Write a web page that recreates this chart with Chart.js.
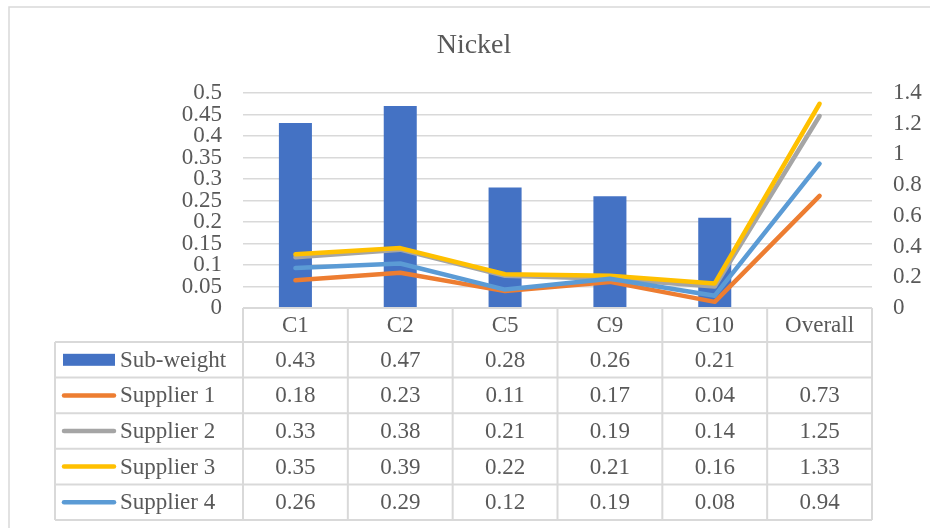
<!DOCTYPE html>
<html>
<head>
<meta charset="utf-8">
<title>Nickel</title>
<script src="https://cdn.jsdelivr.net/npm/chart.js@4.4.1/dist/chart.umd.min.js"></script>
<style>
  html, body { margin: 0; padding: 0; background: #ffffff; }
  #wrap { width: 930px; height: 528px; position: relative; }
</style>
</head>
<body>
<div id="wrap"><canvas id="chart" width="930" height="528"></canvas></div>
<script>
// Criteria, sub-weights and supplier scores for nickel
const categories = ['C1', 'C2', 'C5', 'C9', 'C10', 'Overall'];
const subWeight = [0.43, 0.47, 0.28, 0.26, 0.21, null];
const supplier1 = [0.18, 0.23, 0.11, 0.17, 0.04, 0.73];
const supplier2 = [0.33, 0.38, 0.21, 0.19, 0.14, 1.25];
const supplier3 = [0.35, 0.39, 0.22, 0.21, 0.16, 1.33];
const supplier4 = [0.26, 0.29, 0.12, 0.19, 0.08, 0.94];

const seriesNames = ['Sub-weight', 'Supplier 1', 'Supplier 2', 'Supplier 3', 'Supplier 4'];
const seriesColors = ['#4472C4', '#ED7D31', '#A5A5A5', '#FFC000', '#5B9BD5'];

// Axis tick labels
const leftTickLabels = ['0', '0.05', '0.1', '0.15', '0.2', '0.25', '0.3', '0.35', '0.4', '0.45', '0.5'];
const rightTickLabels = ['0', '0.2', '0.4', '0.6', '0.8', '1', '1.2', '1.4'];

const TEXT = '#595959';
const RULE = '#d9d9d9';
const FONT = '"Liberation Serif", "Times New Roman", serif';

// Frame, title and the data table underneath the plot
const tablePlugin = {
  id: 'dataTable',
  beforeDraw(chart) {
    const ctx = chart.ctx;
    ctx.save();
    ctx.fillStyle = '#ffffff';
    ctx.fillRect(0, 0, chart.width, chart.height);
    ctx.strokeStyle = RULE;
    ctx.lineWidth = 1.5;
    ctx.strokeRect(9, 7, chart.width + 20, chart.height + 20);
    ctx.fillStyle = TEXT;
    ctx.font = '28px ' + FONT;
    ctx.textAlign = 'center';
    ctx.textBaseline = 'alphabetic';
    ctx.fillText('Nickel', 474, 53);
    ctx.restore();
  },
  afterDraw(chart) {
    const ctx = chart.ctx;
    const area = chart.chartArea;
    const xs = chart.scales.x;
    const n = categories.length;
    const colW = (area.right - area.left) / n;
    const top = area.bottom;
    const headH = 34;
    const rowH = 35.6;
    const labelLeft = 55;
    const rows = [subWeight, supplier1, supplier2, supplier3, supplier4];
    const bottom = top + headH + rowH * rows.length;

    ctx.save();
    ctx.strokeStyle = RULE;
    ctx.lineWidth = 2;
    ctx.beginPath();
    // header row lines
    ctx.moveTo(area.left, top);
    ctx.lineTo(area.right, top);
    // row separators
    for (let r = 0; r <= rows.length; r++) {
      const y = top + headH + rowH * r;
      ctx.moveTo(labelLeft, y);
      ctx.lineTo(area.right, y);
    }
    // column separators
    for (let c = 0; c <= n; c++) {
      const x = area.left + colW * c;
      ctx.moveTo(x, top);
      ctx.lineTo(x, bottom);
    }
    ctx.moveTo(labelLeft, top + headH);
    ctx.lineTo(labelLeft, bottom);
    ctx.stroke();

    ctx.fillStyle = TEXT;
    ctx.font = '23px ' + FONT;
    ctx.textBaseline = 'middle';
    ctx.textAlign = 'center';
    categories.forEach((c, i) => {
      ctx.fillText(c, xs.getPixelForValue(i), top + headH / 2 + 1);
    });

    rows.forEach((vals, r) => {
      const cy = top + headH + rowH * r + rowH / 2 + 1;
      // legend key
      if (r === 0) {
        ctx.fillStyle = seriesColors[0];
        ctx.fillRect(63, cy - 7, 52, 12);
      } else {
        ctx.strokeStyle = seriesColors[r];
        ctx.lineWidth = 4.5;
        ctx.lineCap = 'round';
        ctx.beginPath();
        ctx.moveTo(64, cy - 1);
        ctx.lineTo(114, cy - 1);
        ctx.stroke();
      }
      ctx.fillStyle = TEXT;
      ctx.textAlign = 'left';
      ctx.fillText(seriesNames[r], 120, cy);
      ctx.textAlign = 'center';
      vals.forEach((v, i) => {
        if (v === null) return;
        ctx.fillText(v.toFixed(2), xs.getPixelForValue(i), cy);
      });
    });
    ctx.restore();
  }
};

const lineDataset = (idx, data, order) => ({
  type: 'line',
  label: seriesNames[idx],
  data: data,
  yAxisID: 'y1',
  borderColor: seriesColors[idx],
  backgroundColor: seriesColors[idx],
  borderWidth: 4.5,
  borderCapStyle: 'round',
  borderJoinStyle: 'round',
  pointRadius: 0,
  pointHoverRadius: 0,
  tension: 0,
  fill: false,
  order: order
});

new Chart(document.getElementById('chart'), {
  data: {
    labels: categories,
    datasets: [
      {
        type: 'bar',
        label: seriesNames[0],
        data: subWeight,
        yAxisID: 'y',
        backgroundColor: seriesColors[0],
        categoryPercentage: 1,
        barPercentage: 0.315,
        order: 10
      },
      lineDataset(1, supplier1, 4),
      lineDataset(2, supplier2, 3),
      lineDataset(3, supplier3, 2),
      lineDataset(4, supplier4, 1)
    ]
  },
  options: {
    responsive: false,
    devicePixelRatio: 1,
    animation: false,
    layout: { padding: { top: 93, bottom: 220, left: 0, right: 0 } },
    plugins: {
      legend: { display: false },
      title: { display: false },
      tooltip: { enabled: false }
    },
    scales: {
      x: {
        type: 'category',
        offset: true,
        grid: { display: false, drawTicks: false },
        border: { display: false },
        ticks: { display: false }
      },
      y: {
        position: 'left',
        min: 0,
        max: 0.5,
        grid: { color: RULE, lineWidth: 1.5, drawTicks: false },
        border: { display: false },
        ticks: {
          stepSize: 0.05,
          autoSkip: false,
          padding: 21,
          color: TEXT,
          font: { family: FONT, size: 23 },
          callback: (v, i) => leftTickLabels[i]
        },
        afterFit: s => { s.width = 243; }
      },
      y1: {
        position: 'right',
        min: 0,
        max: 1.4,
        grid: { display: false, drawTicks: false },
        border: { display: false },
        ticks: {
          stepSize: 0.2,
          autoSkip: false,
          padding: 21,
          color: TEXT,
          font: { family: FONT, size: 23 },
          callback: (v, i) => rightTickLabels[i]
        },
        afterFit: s => { s.width = 58; }
      }
    }
  },
  plugins: [tablePlugin]
});
</script>
</body>
</html>
